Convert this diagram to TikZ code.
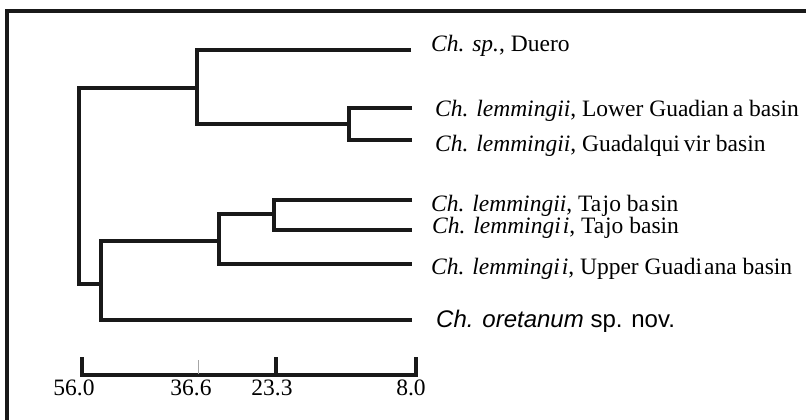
\documentclass[tikz,border=0pt]{standalone}
\usepackage{fontspec}
\setmainfont{Liberation Serif}
\setsansfont{Liberation Sans}
\begin{document}
\begin{tikzpicture}[x=1pt,y=-1pt,
  branch/.style={line width=3.2pt, line join=miter, color=black!90},
  frameline/.style={line width=3.2pt, color=black!90},
  leaflabel/.style={anchor=base west, inner sep=0pt, font=\fontsize{23.5}{27}\selectfont},
  scalelabel/.style={anchor=base, inner sep=0pt, font=\fontsize{23.5}{27}\selectfont}]
\useasboundingbox (0,0) rectangle (806,420);
% frame
\coordinate (fA) at (7,420);
\coordinate (fB) at (7,11);
\coordinate (fC) at (806,11);
\draw[frameline] (fA) -- (fB) -- (fC);
% tree coordinates
\coordinate (dE) at (411,50);
\coordinate (lgE) at (412,108);
\coordinate (gqE) at (412,140);
\coordinate (t1E) at (412,200);
\coordinate (t2E) at (412,230);
\coordinate (ugE) at (412,264);
\coordinate (orE) at (412,320);
\coordinate (n1) at (197,88);
\coordinate (n2) at (349,124);
\coordinate (rt) at (79,88);
\coordinate (n3) at (101,284);
\coordinate (n4) at (219,241);
\coordinate (n5) at (274,214);
% branches
\draw[branch] (dE) -| (n1) |- (n2);
\draw[branch] (lgE) -| (n2) |- (gqE);
\draw[branch] (n1) -- (rt) |- (n3);
\draw[branch] (n4) -| (n3) |- (orE);
\draw[branch] (n5) -| (n4) |- (ugE);
\draw[branch] (t1E) -| (n5) |- (t2E);
% labels
\node[leaflabel] (lD) at (431,52) {\textit{Ch. sp.}, Duero};
\node[leaflabel] (lLG) at (435,117) {\textit{Ch. lemmingii}, Lower Guadian\kern4pt a basin};
\node[leaflabel] (lGQ) at (435,151) {\textit{Ch. lemmingii}, Guadalqui\kern4pt vir basin};
\node[leaflabel] (lT1) at (431,211) {\textit{Ch. lemmingii}, Ta\kern1.5pt jo ba\kern2pt sin};
\node[leaflabel] (lT2) at (432,233) {\textit{Ch. lemmingi\kern2pt i}, Ta\kern1pt jo basin};
\node[leaflabel] (lUG) at (431,274) {\textit{Ch. lemmingi\kern2pt i}, Upper Guadi\kern2pt ana basin};
\node[leaflabel, font=\sffamily\fontsize{24}{28}\selectfont] (lOR) at (436,327) {\textit{Ch. oretanum} sp. nov.};
% scale bar
\coordinate (s1t) at (82,357);
\coordinate (s1b) at (82,375);
\coordinate (s3t) at (416,357);
\coordinate (s3b) at (416,375);
\coordinate (s2t) at (276,357);
\coordinate (s2b) at (276,375);
\coordinate (sgt) at (198,360);
\coordinate (sgb) at (198,374);
\draw[branch] (s1t) -- (s1b) -- (s3b) -- (s3t);
\draw[branch] (s2t) -- (s2b);
\draw[line width=0.6pt, color=black!35] (sgt) -- (sgb);
\node[scalelabel] (v1) at (74,395) {56.0};
\node[scalelabel] (v2) at (191,395) {36.6};
\node[scalelabel] (v3) at (272,395) {23.3};
\node[scalelabel] (v4) at (411,395) {8.0};
\end{tikzpicture}
\end{document}
